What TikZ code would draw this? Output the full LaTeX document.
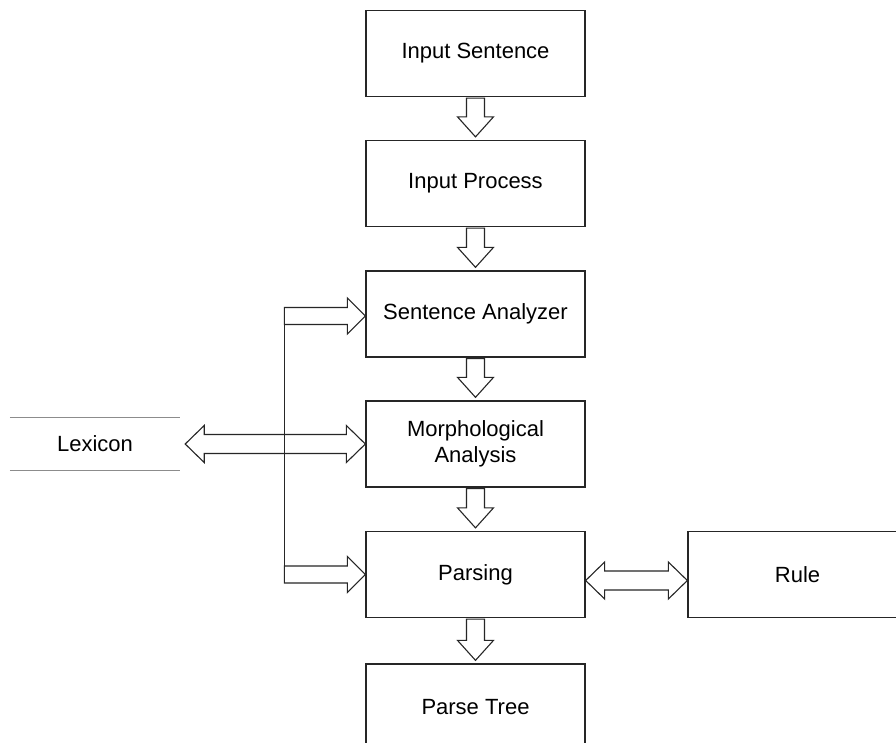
\documentclass[tikz,border=0pt]{standalone}
\usepackage{fontspec}
\setmainfont{Liberation Sans}
\usetikzlibrary{calc}
\newcommand{\vhollow}[2]{\draw[harrow] ($(#1.south)+(-9,1)$) -- ($(#2.north)+(-9,-23)$) -- ($(#2.north)+(-18,-23)$) -- ($(#2.north)+(0,-3)$) -- ($(#2.north)+(18,-23)$) -- ($(#2.north)+(9,-23)$) -- ($(#1.south)+(9,1)$) -- cycle;}
\newcommand{\dhollow}[2]{\draw[harrow] (#1) -- ($(#1)+(19,-18.5)$) -- ($(#1)+(19,-9.5)$) -- ($(#2)+(-19,-9.5)$) -- ($(#2)+(-19,-18.5)$) -- (#2) -- ($(#2)+(-19,18.5)$) -- ($(#2)+(-19,9.5)$) -- ($(#1)+(19,9.5)$) -- ($(#1)+(19,18.5)$) -- cycle;}
\newcommand{\rhollow}[2]{\draw[harrow] ($(#1)+(0,-8.5)$) -- ($(#2)+(-18,-8.5)$) -- ($(#2)+(-18,-18)$) -- (#2) -- ($(#2)+(-18,18)$) -- ($(#2)+(-18,8.5)$) -- ($(#1)+(0,8.5)$) -- cycle;}
\begin{document}
\begin{tikzpicture}[x=1pt,y=-1pt,
  box/.style={draw=black!85, line width=1.3pt, minimum width=219pt, minimum height=86pt, inner sep=0pt, font=\fontsize{22}{26}\selectfont, align=center},
  harrow/.style={draw=black!85, line width=1.1pt, line join=miter},
  lexline/.style={draw=black!45, line width=1.2pt}]
\useasboundingbox (0,0) rectangle (896,742);
\clip (0,0) rectangle (896,742);
\fill[white] (0,0) rectangle (896,742);
\node[box] (is) at (475.5,53.5) {Input Sentence};
\node[box] (ip) at (475.5,183.5) {Input Process};
\node[box] (sa) at (475.5,314) {Sentence Analyzer};
\node[box] (ma) at (475.5,444) {Morphological\\Analysis};
\node[box] (pa) at (475.5,574.5) {Parsing};
\node[box] (pt) at (475.5,707) {Parse Tree};
\node[box] (ru) at (797.5,574.5) {Rule};
\node[font=\fontsize{22}{26}\selectfont, minimum width=170pt, minimum height=52pt, inner sep=0pt] (lx) at (95,444) {Lexicon};
\draw[lexline] (lx.north west) -- (lx.north east);
\draw[lexline] (lx.south west) -- (lx.south east);
\vhollow{is}{ip}
\vhollow{ip}{sa}
\vhollow{sa}{ma}
\vhollow{ma}{pa}
\vhollow{pa}{pt}
\coordinate (lxe) at ($(lx.east)+(5,0)$);
\dhollow{lxe}{ma.west}
\coordinate (pr1) at ($(pa.east)+(0,6)$);
\coordinate (pr2) at ($(ru.west)+(0,6)$);
\dhollow{pr1}{pr2}
\coordinate (bt) at ($(sa.west)+(-81,2)$);
\coordinate (tsa) at ($(sa.west)+(0,2)$);
\coordinate (bb) at ($(pa.west)+(-81,0)$);
\rhollow{bt}{tsa}
\rhollow{bb}{pa.west}
\draw[harrow] ($(bt)+(0,-8.5)$) -- ($(bb)+(0,8.5)$);
\end{tikzpicture}
\end{document}
